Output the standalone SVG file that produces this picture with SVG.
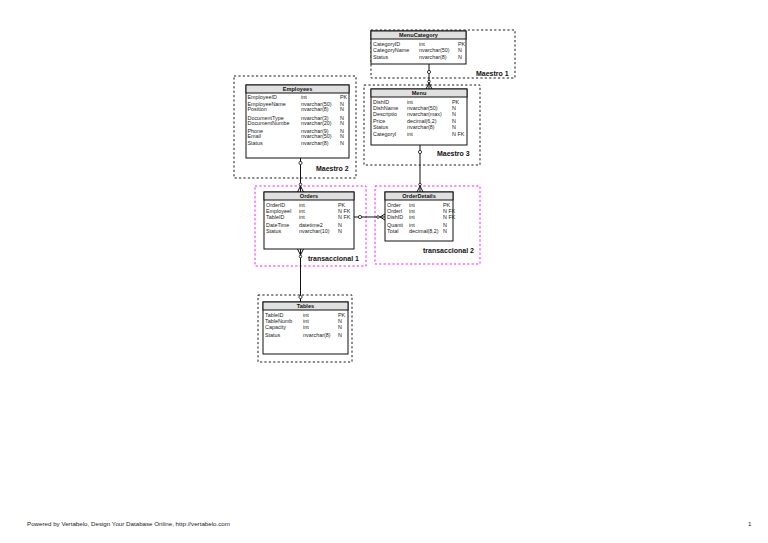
<svg xmlns="http://www.w3.org/2000/svg" width="768" height="543" viewBox="0 0 768 543">
<style>
.area{fill:none;stroke:#000;stroke-width:0.9;stroke-dasharray:2.2,2.2}
.tarea{fill:none;stroke:#ff00ff;stroke-width:0.9;stroke-dasharray:2.2,2.2}
.box{fill:#fff;stroke:#111;stroke-width:1}
.hdr{fill:#e0e0e0;stroke:#111;stroke-width:1}
.ht{font-family:"Liberation Sans",Arial,sans-serif;font-size:5.6px;font-weight:bold;fill:#111;text-anchor:middle}
.t{font-family:"Liberation Sans",Arial,sans-serif;font-size:5.4px;fill:#222}
.lbl{font-family:"Liberation Sans",Arial,sans-serif;font-size:7px;font-weight:bold;fill:#111}
.foot{font-family:"Liberation Sans",Arial,sans-serif;font-size:6.2px;fill:#222}
.ln{stroke:#111;stroke-width:1;fill:none}
.c{fill:#fff;stroke:#111;stroke-width:0.8}
</style>
<rect width="768" height="543" fill="#fff"/>

<g id="areas">
<rect class="area" x="371" y="30" width="144" height="48"/>
<text class="lbl" x="476" y="75.5">Maestro 1</text>
<rect class="area" x="234" y="76" width="122" height="102"/>
<text class="lbl" x="316" y="171">Maestro 2</text>
<rect class="area" x="364" y="85" width="116" height="80"/>
<text class="lbl" x="437" y="156">Maestro 3</text>
<rect class="tarea" x="255" y="186" width="111" height="80"/>
<text class="lbl" x="308" y="261">transaccional 1</text>
<rect class="tarea" x="375" y="186" width="105" height="78"/>
<text class="lbl" x="423" y="253">transaccional 2</text>
<rect class="area" x="258" y="295" width="94" height="67"/>
<text class="lbl" x="310" y="352">Maestro 4</text>
</g>

<g id="connectors">
<line class="ln" x1="429" y1="64" x2="429" y2="89"/>
<circle class="c" cx="429" cy="72" r="1.6"/>
<path class="ln" d="M426 89 L429 83 L432 89"/>
<circle class="c" cx="429" cy="81.5" r="1.3"/>

<line class="ln" x1="300.5" y1="158" x2="300.5" y2="192"/>
<circle class="c" cx="300.5" cy="163" r="1.6"/>
<path class="ln" d="M297.5 192 L300.5 186 L303.5 192"/>
<circle class="c" cx="300.5" cy="184.5" r="1.3"/>

<line class="ln" x1="420" y1="145" x2="420" y2="192"/>
<circle class="c" cx="420" cy="152" r="1.6"/>
<path class="ln" d="M417 192 L420 186 L423 192"/>
<circle class="c" cx="420" cy="184.5" r="1.3"/>

<line class="ln" x1="354" y1="217" x2="385" y2="217"/>
<circle class="c" cx="360" cy="217" r="1.6"/>
<path class="ln" d="M385 214 L380 217 L385 220"/>
<circle class="c" cx="378" cy="217" r="1.3"/>

<line class="ln" x1="300.5" y1="249" x2="300.5" y2="302"/>
<path class="ln" d="M297.5 249 L300.5 255 L303.5 249"/>
<circle class="c" cx="300.5" cy="256.5" r="1.3"/>
<circle class="c" cx="300.5" cy="297" r="1.6"/>
</g>

<g id="MenuCategory">
<rect class="box" x="371" y="31" width="95" height="33"/>
<rect class="hdr" x="371" y="31" width="95" height="8"/>
<text class="ht" x="418.5" y="37.2">MenuCategory</text>
<text class="t" x="373" y="46">CategoryID</text><text class="t" x="419" y="46">int</text><text class="t" x="458" y="46">PK</text>
<text class="t" x="373" y="52">CategoryName</text><text class="t" x="419" y="52">nvarchar(50)</text><text class="t" x="458" y="52">N</text>
<text class="t" x="373" y="58.5">Status</text><text class="t" x="419" y="58.5">nvarchar(8)</text><text class="t" x="458" y="58.5">N</text>
</g>

<g id="Employees">
<rect class="box" x="246" y="85" width="103" height="73"/>
<rect class="hdr" x="246" y="85" width="103" height="8"/>
<text class="ht" x="297.5" y="91.2">Employees</text>
<text class="t" x="247.5" y="99">EmployeeID</text><text class="t" x="301" y="99">int</text><text class="t" x="340" y="99">PK</text>
<text class="t" x="247.5" y="106">EmployeeName</text><text class="t" x="301" y="106">nvarchar(50)</text><text class="t" x="340" y="106">N</text>
<text class="t" x="247.5" y="111">Position</text><text class="t" x="301" y="111">nvarchar(8)</text><text class="t" x="340" y="111">N</text>
<text class="t" x="247.5" y="119.5">DocumentType</text><text class="t" x="301" y="119.5">nvarchar(3)</text><text class="t" x="340" y="119.5">N</text>
<text class="t" x="247.5" y="125">DocumentNumbe</text><text class="t" x="301" y="125">nvarchar(20)</text><text class="t" x="340" y="125">N</text>
<text class="t" x="247.5" y="132.5">Phone</text><text class="t" x="301" y="132.5">nvarchar(9)</text><text class="t" x="340" y="132.5">N</text>
<text class="t" x="247.5" y="138">Email</text><text class="t" x="301" y="138">nvarchar(50)</text><text class="t" x="340" y="138">N</text>
<text class="t" x="247.5" y="145">Status</text><text class="t" x="301" y="145">nvarchar(8)</text><text class="t" x="340" y="145">N</text>
</g>

<g id="Menu">
<rect class="box" x="371" y="89" width="96" height="56"/>
<rect class="hdr" x="371" y="89" width="96" height="8"/>
<text class="ht" x="419" y="95.2">Menu</text>
<text class="t" x="373" y="104">DishID</text><text class="t" x="407" y="104">int</text><text class="t" x="452" y="104">PK</text>
<text class="t" x="373" y="110">DishName</text><text class="t" x="407" y="110">nvarchar(50)</text><text class="t" x="452" y="110">N</text>
<text class="t" x="373" y="115.5">Descriptio</text><text class="t" x="407" y="115.5">nvarchar(max)</text><text class="t" x="452" y="115.5">N</text>
<text class="t" x="373" y="123">Price</text><text class="t" x="407" y="123">decimal(6,2)</text><text class="t" x="452" y="123">N</text>
<text class="t" x="373" y="128.5">Status</text><text class="t" x="407" y="128.5">nvarchar(8)</text><text class="t" x="452" y="128.5">N</text>
<text class="t" x="373" y="135.5">CategoryI</text><text class="t" x="407" y="135.5">int</text><text class="t" x="452" y="135.5">N FK</text>
</g>

<g id="Orders">
<rect class="box" x="264" y="192" width="90" height="57"/>
<rect class="hdr" x="264" y="192" width="90" height="8"/>
<text class="ht" x="309" y="198.2">Orders</text>
<text class="t" x="266" y="207">OrderID</text><text class="t" x="299" y="207">int</text><text class="t" x="338" y="207">PK</text>
<text class="t" x="266" y="213">EmployeeI</text><text class="t" x="299" y="213">int</text><text class="t" x="338" y="213">N FK</text>
<text class="t" x="266" y="218.5">TableID</text><text class="t" x="299" y="218.5">int</text><text class="t" x="338" y="218.5">N FK</text>
<text class="t" x="266" y="227">DateTime</text><text class="t" x="299" y="227">datetime2</text><text class="t" x="338" y="227">N</text>
<text class="t" x="266" y="232.5">Status</text><text class="t" x="299" y="232.5">nvarchar(10)</text><text class="t" x="338" y="232.5">N</text>
</g>

<g id="OrderDetails">
<rect class="box" x="385" y="192" width="68" height="49"/>
<rect class="hdr" x="385" y="192" width="68" height="8"/>
<text class="ht" x="419" y="198.2">OrderDetails</text>
<text class="t" x="387" y="207">Order</text><text class="t" x="409" y="207">int</text><text class="t" x="443" y="207">PK</text>
<text class="t" x="387" y="213">OrderI</text><text class="t" x="409" y="213">int</text><text class="t" x="443" y="213">N FK</text>
<text class="t" x="387" y="218.5">DishID</text><text class="t" x="409" y="218.5">int</text><text class="t" x="443" y="218.5">N FK</text>
<text class="t" x="387" y="227">Quanti</text><text class="t" x="409" y="227">int</text><text class="t" x="443" y="227">N</text>
<text class="t" x="387" y="232.5">Total</text><text class="t" x="409" y="232.5">decimal(8,2)</text><text class="t" x="443" y="232.5">N</text>
</g>

<g id="Tables">
<rect class="box" x="263" y="302" width="85" height="52"/>
<rect class="hdr" x="263" y="302" width="85" height="8"/>
<text class="ht" x="305.5" y="308.2">Tables</text>
<text class="t" x="265" y="317">TableID</text><text class="t" x="303" y="317">int</text><text class="t" x="338" y="317">PK</text>
<text class="t" x="265" y="323">TableNumb</text><text class="t" x="303" y="323">int</text><text class="t" x="338" y="323">N</text>
<text class="t" x="265" y="328.5">Capacity</text><text class="t" x="303" y="328.5">int</text><text class="t" x="338" y="328.5">N</text>
<text class="t" x="265" y="337">Status</text><text class="t" x="303" y="337">nvarchar(8)</text><text class="t" x="338" y="337">N</text>
</g>

<g id="footer">
<text class="foot" x="27" y="526">Powered by Vertabelo, Design Your Database Online, http://vertabelo.com</text>
<text class="foot" x="748" y="526">1</text>
</g>
</svg>
